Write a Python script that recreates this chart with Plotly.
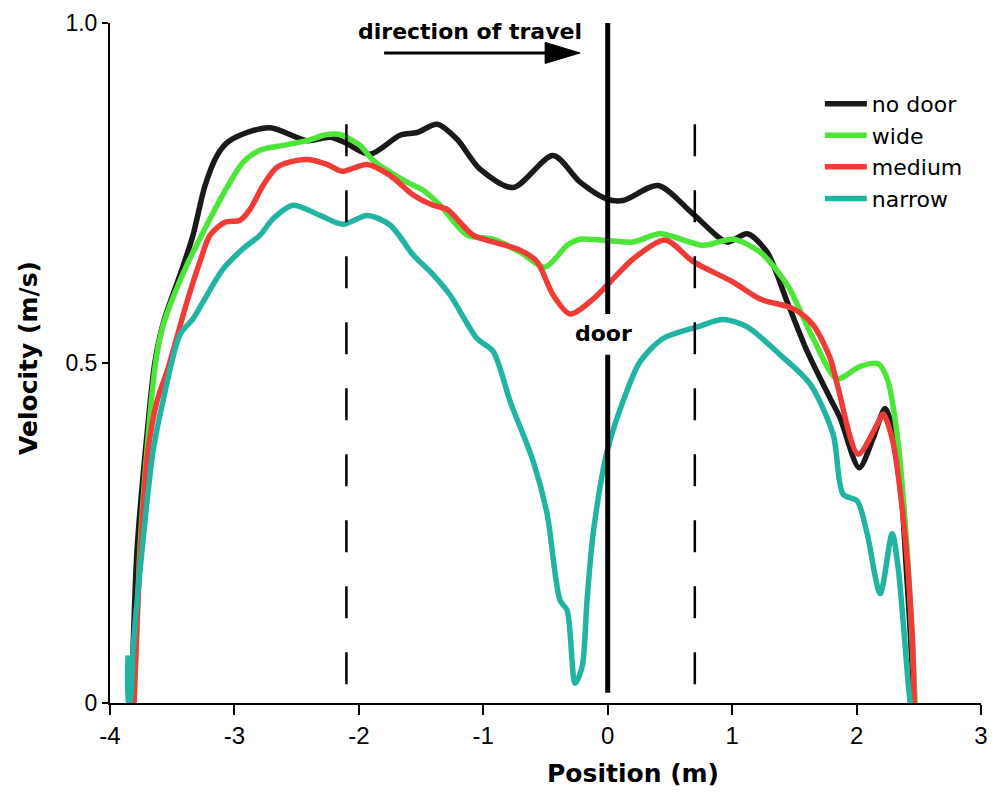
import plotly.graph_objects as go

# ---- data (position in m, velocity in m/s) ----
nodoor_x = [-3.831, -3.815, -3.783, -3.700, -3.640, -3.570, -3.421, -3.333, -3.236, -3.140, -3.059, -2.955,
            -2.714, -2.416, -2.232, -2.110, -1.910, -1.669, -1.532, -1.371, -1.211, -1.026, -0.760,
            -0.439, -0.222, -0.005, 0.124, 0.405, 0.687, 0.960, 1.121, 1.281, 1.442, 1.603, 1.788,
            1.868, 2.021, 2.133, 2.230, 2.326, 2.407, 2.463]
nodoor_v = [0.0, 0.078, 0.224, 0.400, 0.500, 0.560, 0.638, 0.688, 0.761, 0.805, 0.824, 0.835,
            0.846, 0.827, 0.832, 0.824, 0.807, 0.835, 0.839, 0.851, 0.829, 0.785, 0.758,
            0.805, 0.766, 0.741, 0.739, 0.761, 0.719, 0.678, 0.690, 0.663, 0.590, 0.517, 0.448,
            0.419, 0.346, 0.389, 0.433, 0.370, 0.176, 0.0]

wide_x = [-3.807, -3.790, -3.760, -3.690, -3.630, -3.574, -3.397, -3.196, -3.051, -2.931, -2.794, -2.609, -2.416,
          -2.256, -2.151, -1.990, -1.886, -1.613, -1.484, -1.347, -1.130, -0.921, -0.704, -0.503,
          -0.326, -0.222, -0.061, 0.204, 0.421, 0.767, 1.008, 1.225, 1.442, 1.651, 1.844, 2.029,
          2.174, 2.246, 2.326, 2.407, 2.471]
wide_v = [0.0, 0.078, 0.224, 0.400, 0.505, 0.555, 0.638, 0.712, 0.761, 0.795, 0.813, 0.820, 0.827,
          0.836, 0.836, 0.820, 0.798, 0.766, 0.754, 0.732, 0.688, 0.682, 0.663, 0.641,
          0.673, 0.682, 0.681, 0.678, 0.690, 0.673, 0.682, 0.663, 0.615, 0.536, 0.477, 0.495,
          0.499, 0.477, 0.395, 0.224, 0.0]

medium_x = [-3.807, -3.759, -3.695, -3.622, -3.534, -3.381, -3.277, -3.196, -3.076, -2.955, -2.875,
            -2.770, -2.658, -2.497, -2.392, -2.256, -2.135, -1.934, -1.749, -1.564, -1.404, -1.291,
            -1.082, -0.921, -0.704, -0.568, -0.439, -0.302, -0.117, 0.076, 0.204, 0.461, 0.687,
            1.008, 1.225, 1.490, 1.651, 1.788, 1.844, 2.013, 2.166, 2.214, 2.286, 2.375, 2.447, 2.463]
medium_v = [0.0, 0.209, 0.370, 0.444, 0.492, 0.590, 0.649, 0.688, 0.707, 0.710, 0.726,
            0.761, 0.788, 0.798, 0.799, 0.792, 0.782, 0.792, 0.776, 0.747, 0.732, 0.726,
            0.688, 0.678, 0.666, 0.649, 0.600, 0.572, 0.594, 0.630, 0.653, 0.681, 0.649,
            0.619, 0.594, 0.580, 0.556, 0.507, 0.469, 0.366, 0.410, 0.425, 0.389, 0.272, 0.102, 0.0]

narrow_x = [-3.855, -3.850, -3.839, -3.815, -3.743, -3.654, -3.574, -3.437, -3.333, -3.252, -3.092, -2.931, -2.794,
            -2.690, -2.529, -2.312, -2.127, -1.934, -1.749, -1.564, -1.404, -1.267, -1.050, -0.921,
            -0.785, -0.600, -0.487, -0.383, -0.326, -0.262, -0.206, -0.166, -0.117, -0.005, 0.124,
            0.260, 0.445, 0.719, 0.928, 1.121, 1.386, 1.627, 1.812, 1.892, 2.005, 2.085, 2.190,
            2.286, 2.334, 2.415, 2.431]
narrow_v = [0.07, 0.0, 0.0, 0.078, 0.224, 0.370, 0.444, 0.542, 0.565, 0.590, 0.638, 0.668, 0.688,
            0.712, 0.732, 0.717, 0.704, 0.717, 0.703, 0.659, 0.630, 0.600, 0.536, 0.517,
            0.444, 0.356, 0.278, 0.151, 0.136, 0.029, 0.053, 0.151, 0.249, 0.370, 0.444,
            0.502, 0.536, 0.553, 0.564, 0.553, 0.512, 0.469, 0.395, 0.307, 0.297, 0.249, 0.161,
            0.249, 0.199, 0.029, 0.0]

series_names = ["no door", "wide", "medium", "narrow"]
series_colors = ["#1a1a1a", "#4ee539", "#f03b37", "#22b4a2"]

x_ticks = [-4, -3, -2, -1, 0, 1, 2, 3]
y_ticks = [0, 0.5, 1.0]
y_tick_labels = ["0", "0.5", "1.0"]

door_pos = 0.0
zone_edges = [-2.1, 0.7]

FONT = "Liberation Sans, Arial, sans-serif"
BFONT = "DejaVu Sans, Liberation Sans, sans-serif"

# figure geometry (page has an 8px body margin)
ML, MT = 102, 15
PW, PH = 871, 680
MR = 997 - ML - PW
MB = 794 - MT - PH

fig = go.Figure()
for name, xs, vs, col in zip(series_names,
                             [nodoor_x, wide_x, medium_x, narrow_x],
                             [nodoor_v, wide_v, medium_v, narrow_v],
                             series_colors):
    fig.add_trace(go.Scatter(x=xs, y=vs, mode="lines", name=name,
                             line=dict(color=col, width=5.5, shape="spline", smoothing=0.8)))

shapes = []
for xe in zone_edges:
    shapes.append(dict(type="line", xref="x", yref="y", x0=xe, x1=xe, y0=0.851, y1=0.02,
                       line=dict(color="black", width=2.5, dash="32px,34px"), layer="above"))
# door line with gap for label
shapes.append(dict(type="line", xref="x", yref="y", x0=door_pos, x1=door_pos, y0=1.0, y1=0.572,
                   line=dict(color="black", width=5), layer="above"))
shapes.append(dict(type="line", xref="x", yref="y", x0=door_pos, x1=door_pos, y0=0.512, y1=0.015,
                   line=dict(color="black", width=5), layer="above"))
# direction arrow
shapes.append(dict(type="line", xref="x", yref="y", x0=-1.797, x1=-0.45, y0=0.956, y1=0.956,
                   line=dict(color="black", width=3)))
shapes.append(dict(type="path", xref="x", yref="y",
                   path="M -0.503,0.9715 L -0.222,0.956 L -0.503,0.9405 Z",
                   fillcolor="black", line=dict(color="black", width=1)))

annotations = [
    dict(text="<b>direction of travel</b>", x=-1.106, y=0.988, xref="x", yref="y",
         showarrow=False, font=dict(family=BFONT, size=22, color="black")),
    dict(text="<b>door</b>", x=-0.037, y=0.543, xref="x", yref="y",
         showarrow=False, font=dict(family=BFONT, size=22, color="black")),
    dict(text="<b>Position (m)</b>", x=(633 - 8 - ML) / PW, y=(794 - MB - (773 - 8)) / PH,
         xref="paper", yref="paper", xanchor="center", yanchor="middle",
         showarrow=False, font=dict(family=BFONT, size=25, color="black")),
    dict(text="<b>Velocity (m/s)</b>", x=-(ML - (28 - 8)) / PW, y=(794 - MB - (358 - 8)) / PH,
         xref="paper", yref="paper", xanchor="center", yanchor="middle", textangle=-90,
         showarrow=False, font=dict(family=BFONT, size=25, color="black")),
]

fig.update_layout(
    width=997, height=794,
    margin=dict(l=ML, r=MR, t=MT, b=MB, autoexpand=False),
    paper_bgcolor="white", plot_bgcolor="white",
    shapes=shapes,
    annotations=annotations,
    showlegend=True,
    legend=dict(x=0.815, y=0.912, xanchor="left", yanchor="top",
                font=dict(family=BFONT, size=22, color="black"),
                bgcolor="rgba(0,0,0,0)", tracegroupgap=0, itemwidth=42),
    font=dict(family=FONT, color="black"),
)

fig.update_xaxes(range=[-4, 3], tickvals=x_ticks, ticktext=[str(t) for t in x_ticks],
                 showline=True, linecolor="black", linewidth=2, ticks="outside", ticklen=10,
                 tickwidth=2, tickcolor="black", showgrid=False, zeroline=False,
                 ticklabeloverflow="allow",
                 tickfont=dict(family=FONT, size=24, color="black"))
fig.update_yaxes(range=[0, 1.0], tickvals=y_ticks, ticktext=y_tick_labels,
                 showline=True, linecolor="black", linewidth=2, ticks="outside", ticklen=6,
                 tickwidth=2, tickcolor="black", showgrid=False, zeroline=False,
                 ticklabeloverflow="allow",
                 tickfont=dict(family=FONT, size=23, color="black"))

fig.write_html("out.html")
